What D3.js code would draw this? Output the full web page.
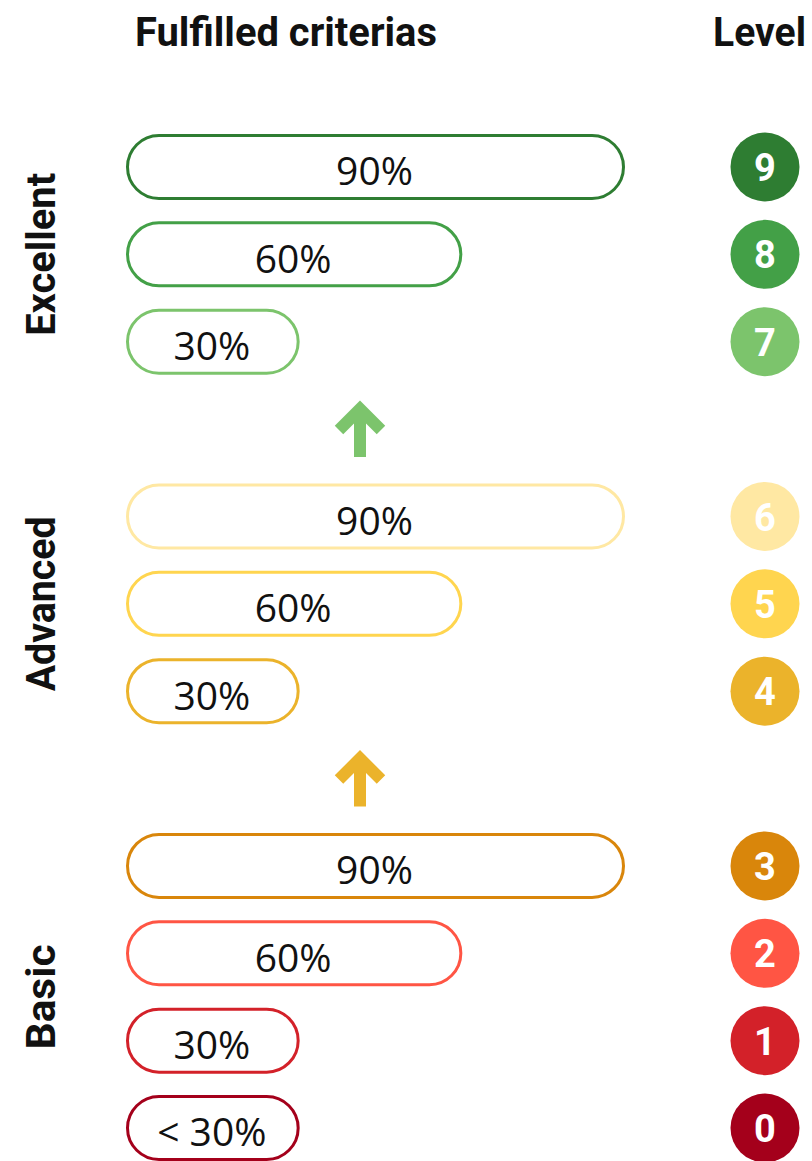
<!DOCTYPE html>
<html>
<head>
<meta charset="utf-8">
<script src="https://cdn.jsdelivr.net/npm/d3@7"></script>
<style>
  html, body { margin: 0; padding: 0; background: #ffffff; }
  svg { display: block; }
</style>
</head>
<body>
<div id="chart"></div>
<script>
// ---- data ----
const rowOrder = ["9", "8", "7", "up1", "6", "5", "4", "up2", "3", "2", "1", "0"];
const levels = [9, 8, 7, 6, 5, 4, 3, 2, 1, 0];
const criteria = [90, 60, 30, 90, 60, 30, 90, 60, 30, 30];
const criteriaLabels = ["90%", "60%", "30%", "90%", "60%", "30%", "90%", "60%", "30%", "< 30%"];
const levelColors = ["#2e7d32", "#43a047", "#7cc46c", "#ffe8a3", "#ffd54f", "#ebb32b", "#d9860b", "#ff5544", "#d32129", "#a4001b"];
const groups = ["Excellent", "Advanced", "Basic"];
const groupMembers = [[9, 8, 7], [6, 5, 4], [3, 2, 1, 0]];
const arrows = ["up1", "up2"];
const arrowColors = ["#7cc46c", "#ebb32b"];
const headers = ["Fulfilled criterias", "Level"];

// ---- layout ----
const W = 812, H = 1161;
const svg = d3.select("#chart").append("svg").attr("width", W).attr("height", H);

const y = d3.scalePoint().domain(rowOrder).range([167, 1128]);
const x = d3.scaleLinear().domain([0, 90]).range([137, 625]);
const barLeft = 126;
const barH = 66;
const sw = 3;
const circleX = 765, circleR = 34.5;

const rows = levels.map((lv, i) => ({
  level: lv, value: criteria[i], label: criteriaLabels[i], color: levelColors[i]
}));

// headers
svg.append("text")
  .attr("x", 135).attr("y", 46)
  .attr("textLength", 302).attr("lengthAdjust", "spacingAndGlyphs")
  .style("font-family", "Roboto, sans-serif").style("font-weight", 700).style("font-size", "40px")
  .attr("fill", "#111").text(headers[0]);
svg.append("text")
  .attr("x", 713).attr("y", 46)
  .attr("textLength", 93).attr("lengthAdjust", "spacingAndGlyphs")
  .style("font-family", "Roboto, sans-serif").style("font-weight", 700).style("font-size", "40px")
  .attr("fill", "#111").text(headers[1]);

// bars
const bars = svg.append("g").selectAll("g").data(rows).join("g");
bars.append("rect")
  .attr("x", barLeft + sw / 2)
  .attr("y", d => y(String(d.level)) - barH / 2 + sw / 2)
  .attr("width", d => x(d.value) - barLeft - sw)
  .attr("height", barH - sw)
  .attr("rx", (barH - sw) / 2).attr("ry", (barH - sw) / 2)
  .attr("fill", "#fff")
  .attr("stroke", d => d.color)
  .attr("stroke-width", sw);
bars.append("text")
  .attr("x", d => (barLeft + x(d.value)) / 2 - 1)
  .attr("y", d => y(String(d.level)))
  .attr("dy", "0.47em")
  .attr("text-anchor", "middle")
  .style("font-family", "'Open Sans', 'Noto Sans', sans-serif").style("font-size", "39px")
  .attr("fill", "#111")
  .text(d => d.label);

// level circles
const circ = svg.append("g").selectAll("g").data(rows).join("g");
circ.append("circle")
  .attr("cx", circleX).attr("cy", d => y(String(d.level)))
  .attr("r", circleR).attr("fill", d => d.color);
circ.append("text")
  .attr("x", circleX).attr("y", d => y(String(d.level)))
  .attr("dy", "0.37em")
  .attr("text-anchor", "middle")
  .style("font-family", "Roboto, sans-serif").style("font-weight", 700).style("font-size", "38px")
  .attr("fill", "#fff")
  .text(d => d.level);

// arrows
const arrowX = 360;
const ag = svg.append("g").selectAll("g").data(arrows).join("g")
  .attr("transform", d => `translate(${arrowX},${y(d)})`);
ag.append("path")
  .attr("d", "M0,28 L0,-20 M-21,1 L0,-20 L21,1")
  .attr("fill", "none")
  .attr("stroke", (d, i) => arrowColors[i])
  .attr("stroke-width", 12)
  .attr("stroke-linejoin", "miter")
  .attr("stroke-linecap", "butt");

// group labels
const groupWidths = [163, 175, 105];
svg.append("g").selectAll("text").data(groups).join("text")
  .attr("transform", (d, i) => {
    const ys = groupMembers[i].map(l => y(String(l)));
    const cy = (d3.min(ys) + d3.max(ys)) / 2;
    return `translate(55,${cy}) rotate(-90)`;
  })
  .attr("text-anchor", "middle")
  .attr("textLength", (d, i) => groupWidths[i]).attr("lengthAdjust", "spacingAndGlyphs")
  .style("font-family", "Roboto, sans-serif").style("font-weight", 700).style("font-size", "40px")
  .attr("fill", "#111")
  .text(d => d);
</script>
</body>
</html>
